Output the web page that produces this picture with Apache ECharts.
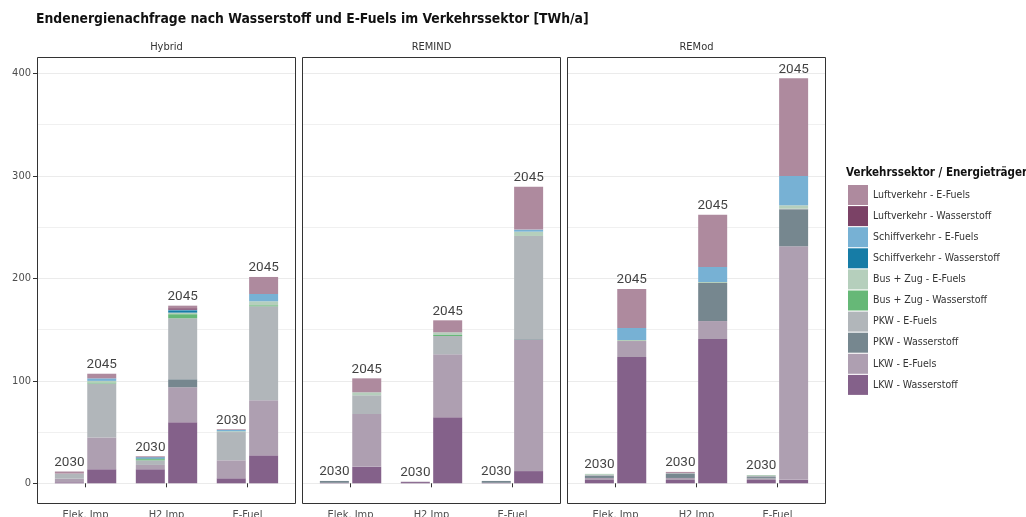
<!DOCTYPE html>
<html>
<head>
<meta charset="utf-8">
<script src="https://cdn.jsdelivr.net/npm/echarts@6/dist/echarts.min.js"></script>
<style>
  html, body { margin: 0; padding: 0; background: #ffffff; }
  #chart { width: 1026px; height: 517px; }
</style>
</head>
<body>
<div id="chart"></div>
<script>
// Facets, x groups and the year shown above each bar
const panels = ['Hybrid', 'REMIND', 'REMod'];
const groups = ['Elek. Imp', 'H2 Imp', 'E-Fuel'];
const years = ['2030', '2045', '2030', '2045', '2030', '2045'];

// TWh/a per bar; each row of six: Elek. Imp 2030/2045, H2 Imp 2030/2045, E-Fuel 2030/2045
// order of the rows: Hybrid, REMIND, REMod
const lkwWasserstoff    = [1, 13.7, 13.7, 59.5, 4.9, 27.3,   0.5, 16.3, 1.2, 64.4, 0.5, 11.9,   3.2, 123.2, 3.2, 140.8, 3.2, 3.6];
const lkwEFuels         = [3.5, 31, 4.2, 34.2, 17.5, 53.7,   0, 51.3, 0.4, 61.5, 0, 127.9,      2, 15.6, 2, 17.5, 1.6, 227.6];
const pkwWasserstoff    = [0, 0, 0, 7.8, 0, 0,               1.8, 0, 0, 0, 1.8, 0.7,            2, 0, 3.9, 37.1, 1.3, 36.1];
const pkwEFuels         = [5, 52.7, 4.5, 59.5, 27.6, 91.7,   0, 18.3, 0, 17.8, 0, 100.8,        1, 0, 1, 0, 1, 0.6];
const busWasserstoff    = [0, 1, 1.2, 4, 0, 1,               0, 0, 0, 1, 0, 0,                  0, 0, 0, 0, 0, 0];
const busEFuels         = [0, 1.5, 0.6, 1.5, 0.8, 3.9,       0, 2.9, 0, 2.6, 0, 4.2,            1, 1, 0, 1, 1, 3.3];
const schiffWasserstoff = [0, 0, 0.9, 2.3, 0, 0,             0, 0, 0, 0, 0, 0,                  0, 0, 0, 0, 0, 0];
const schiffEFuels      = [0, 2.5, 0.4, 0.5, 1.2, 7.1,       0, 0, 0, 0, 0, 2,                  0, 11.7, 0, 14.6, 0, 28.6];
const luftWasserstoff   = [0, 0, 0.4, 1.5, 0, 0,             0, 0, 0, 0, 0, 0,                  0, 0, 0, 0, 0, 0];
const luftEFuels        = [2, 4.5, 0.5, 2.5, 0.7, 16.6,      0, 13.6, 0, 11.7, 0, 41.7,         0, 38, 1, 50.9, 0, 95.3];

const yTicks = [0, 100, 200, 300, 400];

// stacking order, bottom first
const seriesDefs = [
  { name: 'LKW - Wasserstoff',          color: '#84618a', values: lkwWasserstoff },
  { name: 'LKW - E-Fuels',              color: '#ae9fb1', values: lkwEFuels },
  { name: 'PKW - Wasserstoff',          color: '#76878f', values: pkwWasserstoff },
  { name: 'PKW - E-Fuels',              color: '#b1b6ba', values: pkwEFuels },
  { name: 'Bus + Zug - Wasserstoff',    color: '#66b877', values: busWasserstoff },
  { name: 'Bus + Zug - E-Fuels',        color: '#b5cfbc', values: busEFuels },
  { name: 'Schiffverkehr - Wasserstoff',color: '#167ca6', values: schiffWasserstoff },
  { name: 'Schiffverkehr - E-Fuels',    color: '#77b1d4', values: schiffEFuels },
  { name: 'Luftverkehr - Wasserstoff',  color: '#7b4266', values: luftWasserstoff },
  { name: 'Luftverkehr - E-Fuels',      color: '#ae8a9e', values: luftEFuels }
];

const FONT = '"Liberation Sans Narrow", "DejaVu Sans Condensed", "Roboto", sans-serif';
const NUM_FONT = 'Roboto, "Liberation Sans", sans-serif';

// discrete x scale from 0.4 to 3.6 in steps of 0.2 (17 points); bars sit at +-0.2 around each group
const SLOTS = 17;
const barSlots = [2, 4, 7, 9, 12, 14];
const labelSlots = [3, 8, 13];

const panelLeft = [37, 302, 567];
const panelWidth = 259;
const panelTop = 57.5;
const panelBottom = 503.5;
const zeroY = 483.3;
const pxPer100 = 102.5;
const gridTop = zeroY - 4 * pxPer100;

const slotNames = [];
for (let i = 0; i < SLOTS; i++) {
  const g = labelSlots.indexOf(i);
  slotNames.push(g >= 0 ? groups[g] : '');
}
const isLabelSlot = (i) => labelSlots.indexOf(i) >= 0;

function slotData(p, values) {
  const arr = new Array(SLOTS).fill('-');
  barSlots.forEach((s, k) => { arr[s] = values[p * 6 + k]; });
  return arr;
}

const grids = [], xAxes = [], yAxes = [], series = [], titles = [], graphics = [];

titles.push({
  text: 'Endenergienachfrage nach Wasserstoff und E-Fuels im Verkehrssektor [TWh/a]',
  left: 36, top: 12, padding: 0,
  textStyle: { fontFamily: FONT, fontSize: 13.8, fontWeight: 'bold', color: '#111111' }
});
titles.push({
  text: 'Verkehrssektor / Energieträger',
  left: 846, top: 167, padding: 0,
  textStyle: { fontFamily: FONT, fontSize: 11.5, fontWeight: 'bold', color: '#111111' }
});

panels.forEach((panel, p) => {
  const left = panelLeft[p];
  grids.push({
    left: left, width: panelWidth, top: gridTop, bottom: 517 - zeroY,
    containLabel: false, outerBoundsMode: 'none'
  });
  titles.push({
    text: panel, left: left + panelWidth / 2, top: 42, textAlign: 'center', padding: 0,
    textStyle: { fontFamily: FONT, fontSize: 11, fontWeight: 'normal', color: '#333333' }
  });
  xAxes.push({
    type: 'category', gridIndex: p, data: slotNames, boundaryGap: false,
    offset: panelBottom - zeroY,
    axisLine: { show: false },
    axisTick: { show: true, length: 4, interval: isLabelSlot, lineStyle: { color: '#333333' } },
    axisLabel: { interval: isLabelSlot, margin: 6, fontFamily: FONT, fontSize: 11, color: '#4d4d4d' },
    splitLine: { show: false }
  });
  yAxes.push({
    type: 'value', gridIndex: p, min: yTicks[0], max: yTicks[yTicks.length - 1], interval: 100,
    axisLine: { show: false },
    axisTick: { show: p === 0, length: 4, lineStyle: { color: '#333333' } },
    axisLabel: { show: p === 0, margin: 6, fontFamily: FONT, fontSize: 11, color: '#4d4d4d' },
    splitLine: { show: true, lineStyle: { color: '#ebebeb', width: 1 } },
    minorTick: { show: false, splitNumber: 2 },
    minorSplitLine: { show: true, lineStyle: { color: '#f0f0f0', width: 1 } }
  });
  seriesDefs.forEach((d) => {
    series.push({
      type: 'bar', name: d.name, xAxisIndex: p, yAxisIndex: p, stack: 'panel' + p,
      barWidth: 29, itemStyle: { color: d.color }, data: slotData(p, d.values),
      emphasis: { disabled: true }, animation: false
    });
  });
  // year above every stacked bar, placed at the stack total
  const totals = new Array(SLOTS).fill('-');
  barSlots.forEach((s, k) => {
    let sum = 0;
    seriesDefs.forEach((d) => { sum += d.values[p * 6 + k]; });
    totals[s] = { value: sum, year: years[k] };
  });
  series.push({
    type: 'scatter', xAxisIndex: p, yAxisIndex: p, symbolSize: 0.1,
    itemStyle: { color: 'rgba(0,0,0,0)' }, silent: true, animation: false,
    label: {
      show: true, position: 'top', distance: 2,
      formatter: (prm) => prm.data.year,
      fontFamily: NUM_FONT, fontSize: 13.5, color: '#111111'
    },
    data: totals
  });
  graphics.push({
    type: 'rect', z: 100, silent: true,
    shape: { x: left + 0.5, y: panelTop, width: panelWidth - 1, height: panelBottom - panelTop },
    style: { fill: null, stroke: '#333333', lineWidth: 1 }
  });
});

const chart = echarts.init(document.getElementById('chart'), null, { renderer: 'canvas' });
chart.setOption({
  backgroundColor: '#ffffff',
  animation: false,
  title: titles,
  grid: grids,
  xAxis: xAxes,
  yAxis: yAxes,
  legend: {
    data: seriesDefs.map((d) => d.name).reverse(),
    orient: 'vertical', left: 848, top: 185, padding: 0,
    itemWidth: 20, itemHeight: 20, itemGap: 1.1, icon: 'rect',
    selectedMode: false,
    textStyle: { fontFamily: FONT, fontSize: 10.5, color: '#333333' }
  },
  graphic: graphics,
  series: series
});
</script>
</body>
</html>
